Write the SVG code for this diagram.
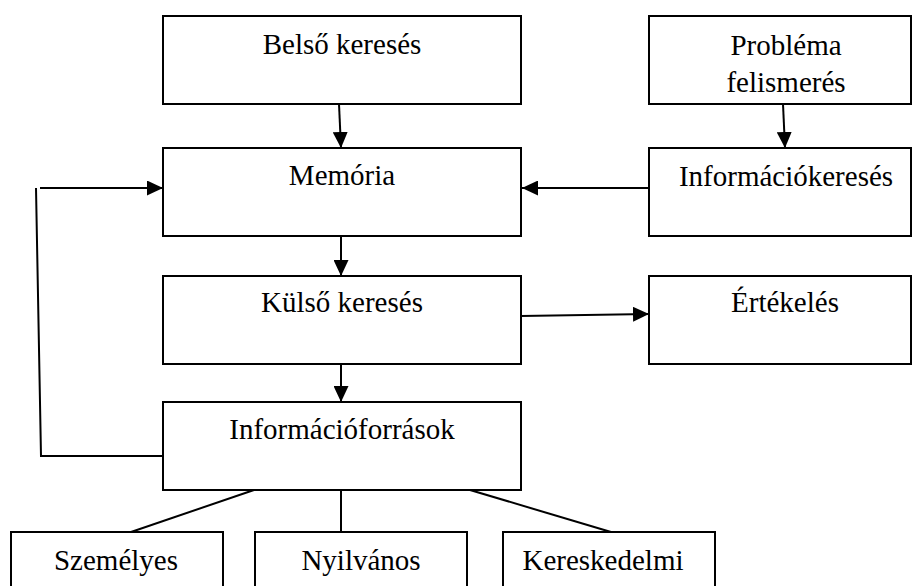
<svg xmlns="http://www.w3.org/2000/svg" width="912" height="586" viewBox="0 0 912 586">
  <style>
    .box { fill: #ffffff; stroke: #000000; stroke-width: 2; }
    .lbl { font-family: "Liberation Serif", serif; font-size: 29px; fill: #000000; stroke: none; text-anchor: middle; }
    .wire { fill: none; stroke: #000000; stroke-width: 2; }
  </style>
  <defs>
    <marker id="head" markerUnits="userSpaceOnUse" markerWidth="16" markerHeight="15" refX="16" refY="7.5" orient="auto">
      <path d="M0,0 L16,7.5 L0,15 z" fill="#000000"/>
    </marker>
  </defs>
  <rect width="912" height="586" fill="#ffffff"/>

  <!-- arrows and plain links between the boxes -->
  <g id="connectors">
    <line class="wire" x1="339" y1="104" x2="341" y2="148" marker-end="url(#head)"/>
    <line class="wire" x1="783" y1="104" x2="785" y2="148" marker-end="url(#head)"/>
    <line class="wire" x1="649" y1="188" x2="522" y2="188" marker-end="url(#head)"/>
    <line class="wire" x1="341" y1="237" x2="341" y2="276" marker-end="url(#head)"/>
    <line class="wire" x1="521" y1="316" x2="649" y2="314" marker-end="url(#head)"/>
    <line class="wire" x1="341" y1="364" x2="341" y2="402" marker-end="url(#head)"/>
    <polyline class="wire" points="163,456 41,456 36,188"/>
    <line class="wire" x1="40" y1="188" x2="163" y2="188" marker-end="url(#head)"/>
    <line class="wire" x1="254" y1="490" x2="131" y2="532"/>
    <line class="wire" x1="341" y1="490" x2="341" y2="532"/>
    <line class="wire" x1="470" y1="490" x2="611" y2="532"/>
  </g>

  <g id="belso-kereses">
    <rect class="box" x="163" y="16" width="358" height="88"/>
    <text class="lbl" x="342" y="54">Belső keresés</text>
  </g>
  <g id="problema-felismeres">
    <rect class="box" x="649" y="16" width="262" height="88"/>
    <text class="lbl" x="786" y="55">Probléma</text>
    <text class="lbl" x="786" y="92">felismerés</text>
  </g>
  <g id="memoria">
    <rect class="box" x="163" y="148" width="358" height="88"/>
    <text class="lbl" x="342" y="185">Memória</text>
  </g>
  <g id="informaciokereses">
    <rect class="box" x="649" y="148" width="262" height="88"/>
    <text class="lbl" x="786" y="186">Információkeresés</text>
  </g>
  <g id="kulso-kereses">
    <rect class="box" x="163" y="276" width="358" height="88"/>
    <text class="lbl" x="342" y="312">Külső keresés</text>
  </g>
  <g id="ertekeles">
    <rect class="box" x="649" y="276" width="262" height="88"/>
    <text class="lbl" x="785" y="312">Értékelés</text>
  </g>
  <g id="informacioforrasok">
    <rect class="box" x="163" y="402" width="358" height="88"/>
    <text class="lbl" x="342" y="439">Információforrások</text>
  </g>
  <g id="szemelyes">
    <rect class="box" x="11" y="532" width="212" height="90"/>
    <text class="lbl" x="116" y="570">Személyes</text>
  </g>
  <g id="nyilvanos">
    <rect class="box" x="255" y="532" width="212" height="90"/>
    <text class="lbl" x="361" y="570">Nyilvános</text>
  </g>
  <g id="kereskedelmi">
    <rect class="box" x="503" y="532" width="212" height="90"/>
    <text class="lbl" x="603" y="570">Kereskedelmi</text>
  </g>
</svg>
